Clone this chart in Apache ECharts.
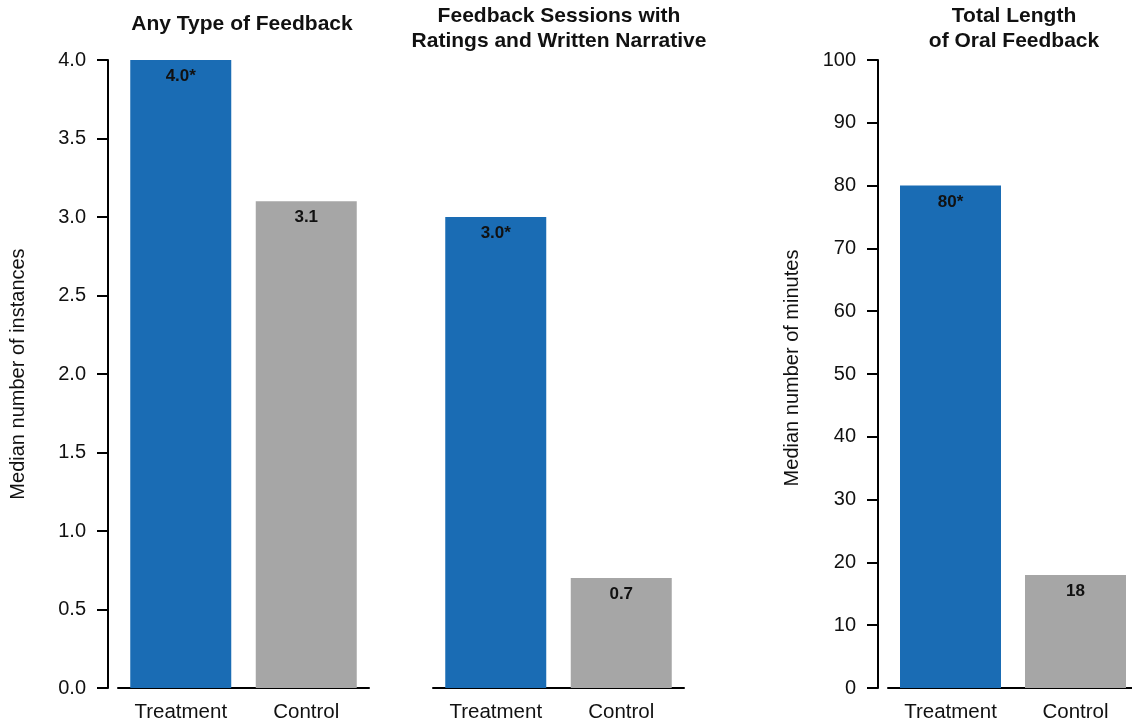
<!DOCTYPE html>
<html>
<head>
<meta charset="utf-8">
<script src="https://cdn.jsdelivr.net/npm/echarts@6/dist/echarts.min.js"></script>
<style>
html,body{margin:0;padding:0;background:#fff;}
#chart{width:1132px;height:723px;}
</style>
</head>
<body>
<div id="chart"></div>
<script>
const categories = ['Treatment', 'Control'];
const anyTypeValues = [4.0, 3.1];
const anyTypeLabels = ['4.0*', '3.1'];
const ratingsValues = [3.0, 0.7];
const ratingsLabels = ['3.0*', '0.7'];
const oralValues = [80, 18];
const oralLabels = ['80*', '18'];
const panelTitles = ['Any Type of Feedback', 'Feedback Sessions with\nRatings and Written Narrative', 'Total Length\nof Oral Feedback'];
const yNames = ['Median number of instances', 'Median number of minutes'];
const barColors = ['#1a6cb4', '#a6a6a6'];

const FONT = '"Liberation Sans", Arial, sans-serif';
const chart = echarts.init(document.getElementById('chart'), null, {renderer: 'canvas'});

const grids = [
  {left: 118, top: 60, width: 251, height: 628, outerBoundsMode: 'none', containLabel: false},
  {left: 433, top: 60, width: 251, height: 628, outerBoundsMode: 'none', containLabel: false},
  {left: 888, top: 60, width: 250, height: 628, outerBoundsMode: 'none', containLabel: false}
];

function xAxisFor(i) {
  return {
    type: 'category', gridIndex: i, data: categories,
    axisLine: {show: true, lineStyle: {color: '#000', width: 2}},
    axisTick: {show: false},
    axisLabel: {color: '#111', fontSize: 20.5, fontFamily: FONT, margin: 14}
  };
}

function yAxisFor(i, max, interval, show, name, fmt, gap, pad) {
  return {
    type: 'value', gridIndex: i, min: 0, max: max, interval: interval,
    show: show, offset: 10,
    name: name, nameLocation: 'middle', nameGap: gap, nameRotate: 90,
    nameTextStyle: {color: '#111', fontSize: 20, fontFamily: FONT, padding: pad},
    axisLine: {show: true, lineStyle: {color: '#000', width: 2}},
    axisTick: {show: true, inside: false, length: 11, lineStyle: {color: '#000', width: 2}},
    axisLabel: {color: '#111', fontSize: 20, fontFamily: FONT, margin: 22, formatter: fmt},
    splitLine: {show: false}
  };
}

function barSeries(i, values, labels) {
  return {
    type: 'bar', xAxisIndex: i, yAxisIndex: i, barWidth: 101,
    data: values.map((v, k) => ({value: v, itemStyle: {color: barColors[k]}})),
    label: {
      show: true, position: 'insideTop', distance: 8,
      color: '#111', fontWeight: 'bold', fontSize: 17, fontFamily: FONT,
      formatter: p => labels[p.dataIndex]
    },
    emphasis: {disabled: true}
  };
}

const titleCenters = [[242, 24], [559, 29], [1014, 29]];

const option = {
  animation: false,
  backgroundColor: '#fff',
  grid: grids,
  xAxis: [xAxisFor(0), xAxisFor(1), xAxisFor(2)],
  yAxis: [
    yAxisFor(0, 4, 0.5, true, yNames[0], v => v.toFixed(1), 80, [0, 0, 0, 0]),
    yAxisFor(1, 4, 0.5, false, '', v => v.toFixed(1), 80, [0, 0, 0, 0]),
    yAxisFor(2, 100, 10, true, yNames[1], v => String(v), 76, [0, 0, 0, 12])
  ],
  series: [
    barSeries(0, anyTypeValues, anyTypeLabels),
    barSeries(1, ratingsValues, ratingsLabels),
    barSeries(2, oralValues, oralLabels)
  ],
  graphic: panelTitles.map((t, i) => ({
    type: 'text', x: titleCenters[i][0], y: titleCenters[i][1],
    style: {
      text: t, fill: '#111', font: 'bold 21px ' + FONT,
      align: 'center', verticalAlign: 'middle', lineHeight: 25
    }
  }))
};
chart.setOption(option);
</script>
</body>
</html>
